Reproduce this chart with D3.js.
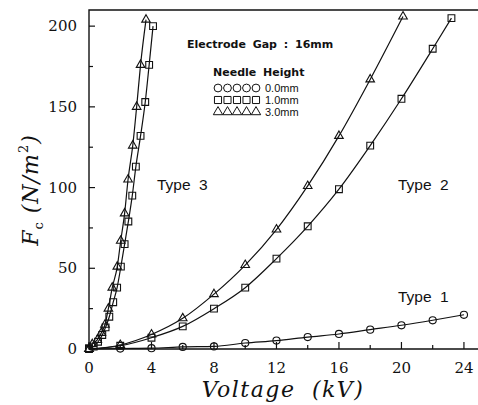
<!DOCTYPE html>
<html>
<head>
<meta charset="utf-8">
<script src="https://cdn.jsdelivr.net/npm/d3@7"></script>
<style>
  body { margin: 0; background: #fff; }
  svg { display: block; }
  .tick-label { font-family: "DejaVu Serif", serif; font-size: 15px; fill: #111; }
  .legend { font-family: "DejaVu Sans", sans-serif; font-weight: bold; font-size: 11px; fill: #111; }
  .legend-item { font-family: "Liberation Sans", sans-serif; font-size: 11px; fill: #111; }
  .type-label { font-family: "Liberation Sans", sans-serif; font-size: 15.5px; fill: #111; word-spacing: 4px; }
  .axis-title { font-family: "DejaVu Serif", serif; font-style: italic; fill: #111; }
</style>
</head>
<body>
<div id="chart"></div>
<script>
// values
var xTicks = [0, 4, 8, 12, 16, 20, 24];
var yTicks = [0, 50, 100, 150, 200];

// Type 1, needle height 0.0mm (circles)
var type1V = [0, 2, 4, 6, 8, 10, 12, 14, 16, 18, 20, 22, 24];
var type1F = [0, 0.3, 0.5, 1.3, 1.6, 3.7, 5.2, 7.4, 9.3, 12, 14.7, 17.8, 21.2];

// Type 2, needle height 1.0mm (squares) and 3.0mm (triangles)
var type2SqV = [0, 2, 4, 6, 8, 10, 12, 14, 16, 18, 20, 22, 23.2];
var type2SqF = [0, 2, 7, 14, 25, 38, 56, 76, 99, 126, 155, 186, 205];
var type2TrV = [0, 2, 4, 6, 8, 10, 12, 14, 16, 18, 20.1];
var type2TrF = [0, 2.5, 9, 19, 34, 52, 74, 101, 132, 167, 206];

// Type 3, squares and triangles
var type3SqV = [0, 0.3, 0.58, 0.85, 1.06, 1.3, 1.55, 1.8, 2.04, 2.28, 2.52, 2.77, 3.0, 3.3, 3.6, 3.85, 4.1];
var type3SqF = [0.5, 1.5, 4.5, 8.7, 13.4, 20, 29, 38, 51, 65, 79, 95, 113, 132, 153, 176, 200];
var type3TrV = [0, 0.21, 0.53, 0.79, 1.02, 1.24, 1.49, 1.81, 2.03, 2.28, 2.5, 2.8, 3.05, 3.3, 3.65];
var type3TrF = [0, 3, 5.6, 10, 15, 25, 38, 51, 67, 84, 105, 126, 150, 176, 204];

var legendLabels = ["0.0mm", "1.0mm", "3.0mm"];

(function() {
  var width = 478, height = 405;
  var left = 89, right = 478, top = 10, bottom = 349;

  var svg = d3.select("#chart")
    .append("svg")
    .attr("width", width)
    .attr("height", height);

  var x = d3.scaleLinear().domain([0, 24.9]).range([left, right]);
  var y = d3.scaleLinear().domain([0, 210]).range([bottom, top]);

  function pts(vs, fs) {
    return vs.map(function(v, i) { return { v: v, f: fs[i] }; });
  }

  var series = [
    { data: pts(type1V, type1F), shape: "circle" },
    { data: pts(type2SqV, type2SqF), shape: "square" },
    { data: pts(type2TrV, type2TrF), shape: "triangle" },
    { data: pts(type3SqV, type3SqF), shape: "square" },
    { data: pts(type3TrV, type3TrF), shape: "triangle" }
  ];

  var symbols = {
    circle: d3.symbol().type(d3.symbolCircle).size(40),
    square: d3.symbol().type(d3.symbolSquare).size(46),
    triangle: d3.symbol().type(d3.symbolTriangle).size(32)
  };

  // frame (left, top, bottom)
  var frame = svg.append("g").attr("stroke", "#111").attr("stroke-width", 1.4).attr("fill", "none");
  frame.append("path")
    .attr("d", "M" + right + "," + top + "H" + left + "V" + bottom + "H" + right);

  // y ticks, inward
  var yMinor = d3.range(0, 201, 25);
  svg.append("g").selectAll("line")
    .data(yMinor)
    .enter().append("line")
    .attr("x1", left)
    .attr("x2", function(d) { return d % 50 === 0 ? left + 6 : left + 4; })
    .attr("y1", function(d) { return y(d); })
    .attr("y2", function(d) { return y(d); })
    .attr("stroke", "#111")
    .attr("stroke-width", 1.2);

  svg.append("g").selectAll("text")
    .data(yTicks)
    .enter().append("text")
    .attr("class", "tick-label")
    .attr("x", 77)
    .attr("y", function(d) { return y(d) + 5; })
    .attr("text-anchor", "end")
    .text(function(d) { return d; });

  // x ticks, inward
  var xMinor = d3.range(0, 25, 2);
  svg.append("g").selectAll("line")
    .data(xMinor)
    .enter().append("line")
    .attr("x1", function(d) { return x(d); })
    .attr("x2", function(d) { return x(d); })
    .attr("y1", bottom)
    .attr("y2", function(d) { return d % 4 === 0 ? bottom - 7 : bottom - 4; })
    .attr("stroke", "#111")
    .attr("stroke-width", 1.2);

  svg.append("g").selectAll("text")
    .data(xTicks)
    .enter().append("text")
    .attr("class", "tick-label")
    .attr("x", function(d) { return x(d); })
    .attr("y", 373)
    .attr("text-anchor", "middle")
    .text(function(d) { return d; });

  // curves
  var line = d3.line()
    .x(function(d) { return x(d.v); })
    .y(function(d) { return y(d.f); })
    .curve(d3.curveMonotoneX);

  svg.append("g").selectAll("path")
    .data(series)
    .enter().append("path")
    .attr("d", function(d) { return line(d.data); })
    .attr("fill", "none")
    .attr("stroke", "#111")
    .attr("stroke-width", 1.2);

  // markers
  series.forEach(function(s) {
    svg.append("g").selectAll("path")
      .data(s.data)
      .enter().append("path")
      .attr("transform", function(d) { return "translate(" + x(d.v) + "," + y(d.f) + ")"; })
      .attr("d", symbols[s.shape]())
      .attr("fill", "none")
      .attr("stroke", "#111")
      .attr("stroke-width", 1.1);
  });

  // legend
  svg.append("text").attr("class", "legend")
    .attr("x", 187).attr("y", 48)
    .attr("word-spacing", "3px")
    .text("Electrode Gap : 16mm");
  svg.append("text").attr("class", "legend")
    .attr("x", 213).attr("y", 76)
    .attr("word-spacing", "3px")
    .text("Needle Height");

  var legendShapes = ["circle", "square", "triangle"];
  var legendSym = {
    circle: d3.symbol().type(d3.symbolCircle).size(48),
    square: d3.symbol().type(d3.symbolSquare).size(50),
    triangle: d3.symbol().type(d3.symbolTriangle).size(38)
  };
  legendShapes.forEach(function(sh, i) {
    var cy = 88 + i * 12;
    svg.append("g").selectAll("path")
      .data(d3.range(5))
      .enter().append("path")
      .attr("transform", function(k) { return "translate(" + (218 + k * 9.5) + "," + cy + ")"; })
      .attr("d", legendSym[sh]())
      .attr("fill", "none")
      .attr("stroke", "#111")
      .attr("stroke-width", 1);
    svg.append("text").attr("class", "legend-item")
      .attr("x", 265).attr("y", cy + 4)
      .text(legendLabels[i]);
  });

  // type labels
  svg.append("text").attr("class", "type-label").attr("x", 157).attr("y", 190).text("Type 3");
  svg.append("text").attr("class", "type-label").attr("x", 398).attr("y", 190).text("Type 2");
  svg.append("text").attr("class", "type-label").attr("x", 398).attr("y", 302).text("Type 1");

  // axis titles
  svg.append("text")
    .attr("class", "axis-title")
    .attr("x", 283).attr("y", 397)
    .attr("text-anchor", "middle")
    .attr("font-size", "22px")
    .attr("letter-spacing", "1.5px")
    .attr("word-spacing", "8px")
    .text("Voltage (kV)");

  var yt = svg.append("text")
    .attr("class", "axis-title")
    .attr("transform", "translate(38,190) rotate(-90)")
    .attr("text-anchor", "middle")
    .attr("font-size", "22px")
    .attr("letter-spacing", "1px");
  yt.append("tspan").text("F");
  yt.append("tspan").attr("font-size", "13px").attr("font-style", "normal").attr("dy", 5).text("c");
  yt.append("tspan").attr("dy", -5).attr("dx", 8).text("(N/m");
  yt.append("tspan").attr("font-size", "13px").attr("font-style", "normal").attr("dy", -10).text("2");
  yt.append("tspan").attr("dy", 10).text(")");
})();
</script>
</body>
</html>
